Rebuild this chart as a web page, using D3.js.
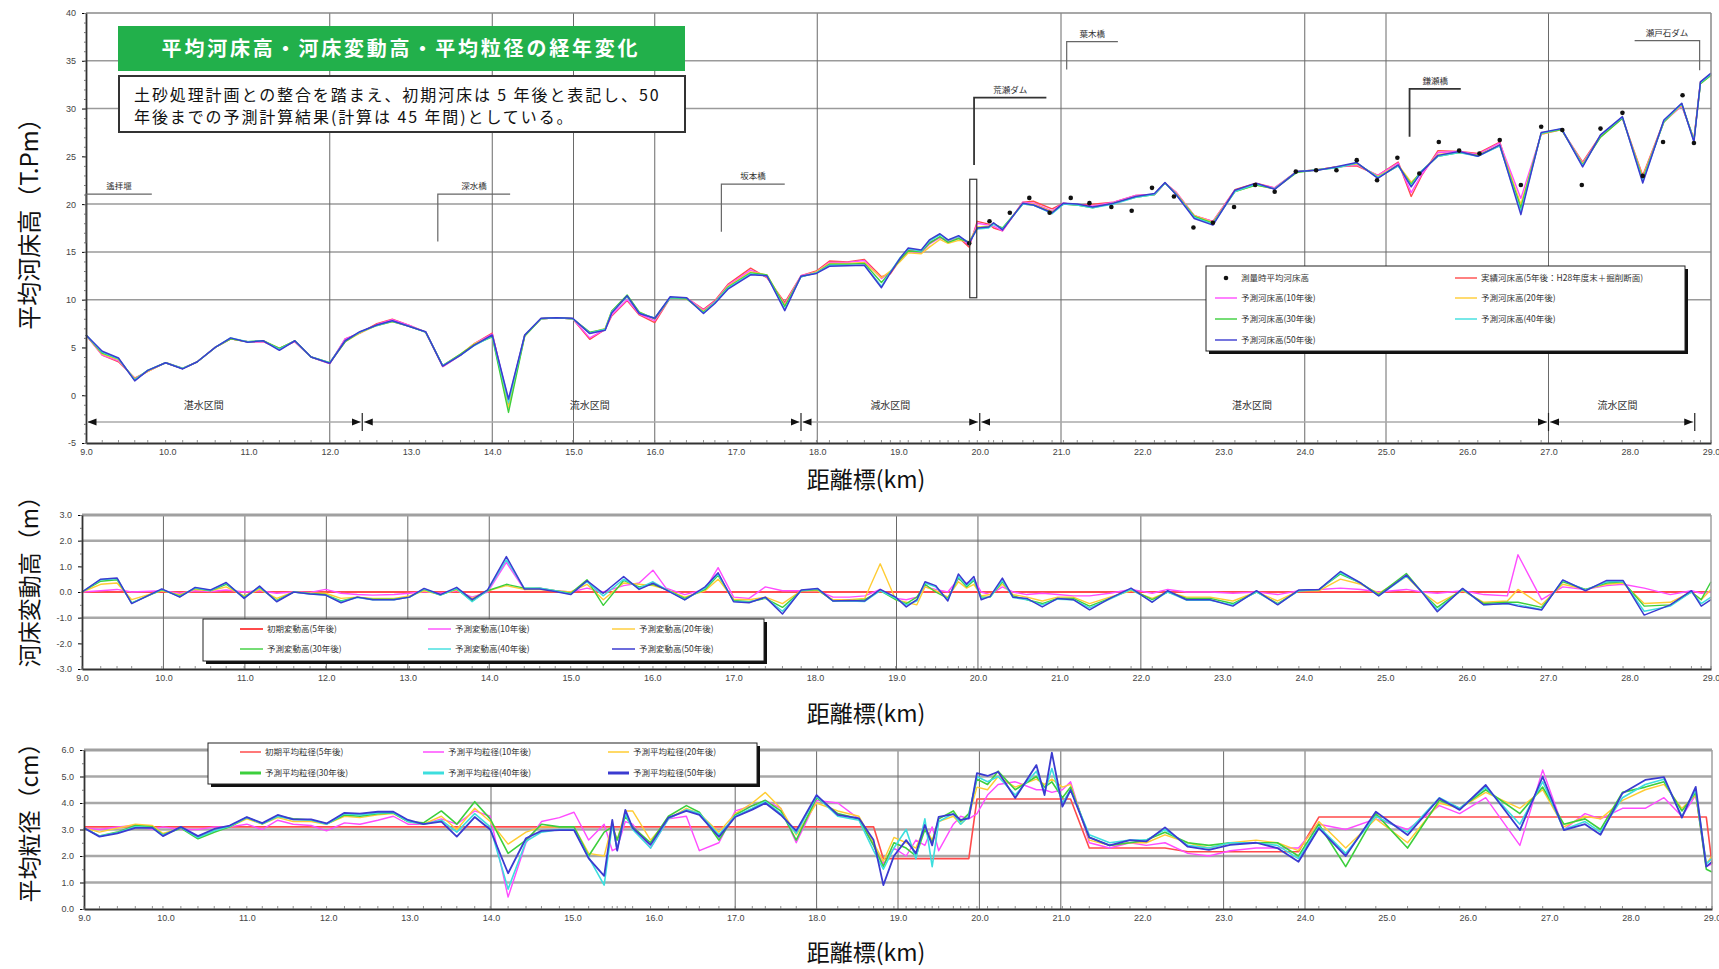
<!DOCTYPE html>
<html><head><meta charset="utf-8">
<script src="https://cdn.jsdelivr.net/npm/d3@7"></script>
<style>
body{margin:0;background:#fff;}
svg text{font-family:"Noto Sans CJK JP","Noto Sans",sans-serif;}
.tk text{font-family:"Liberation Sans Narrow","Liberation Sans",sans-serif;font-size:9px;fill:#444;}
</style></head><body>
<svg id="chart" width="1719" height="969"></svg>
<script>
// ---------------- data ----------------
const xTicks = [9,10,11,12,13,14,15,16,17,18,19,20,21,22,23,24,25,26,27,28,29];
const seriesColors = ["#ff4b4b","#ff4cff","#ffcc33","#3ccf3c","#3ddede","#3b3bd0"];

// 平均河床高 (T.Pm)
const kmA = [9.0,9.2,9.4,9.6,9.76,9.98,10.19,10.37,10.59,10.78,
10.99,11.18,11.38,11.57,11.77,12.0,12.19,12.37,12.58,12.77,
12.98,13.18,13.39,13.61,13.78,14.0,14.2,14.4,14.6,14.79,
14.99,15.2,15.39,15.47,15.66,15.81,16.0,16.19,16.39,16.6,
16.74,16.9,17.18,17.38,17.6,17.8,17.99,18.15,18.37,18.58,
18.79,18.9,19.02,19.12,19.28,19.38,19.51,19.61,19.74,19.87,
19.97,20.11,20.17,20.28,20.53,20.66,20.89,21.03,21.2,21.39,
21.65,21.92,22.15,22.28,22.42,22.64,22.87,23.14,23.4,23.63,
23.9,24.16,24.39,24.64,24.9,25.15,25.31,25.44,25.64,25.9,
26.13,26.4,26.66,26.91,27.16,27.42,27.64,27.91,28.16,28.42,
28.64,28.79,28.87,29.0];
const bed5 = [6.3,4.2,3.5,1.8,2.5,3.4,2.8,3.5,5.0,5.9,
5.6,5.6,4.9,5.6,4.0,3.3,5.9,6.5,7.5,7.95,
7.3,6.6,3.0,4.2,5.4,6.5,-0.9,6.3,8.0,8.1,
8.0,5.85,6.9,8.3,9.9,8.4,7.6,10.2,10.2,9.0,
9.9,11.6,13.3,12.3,9.7,12.5,13.0,14.05,13.95,14.2,
12.4,12.7,14.2,15.2,15.0,16.0,16.5,16.2,16.5,15.5,
18.2,17.9,17.5,17.2,20.2,20.3,19.5,20.1,19.9,20.0,
20.2,20.9,21.0,22.2,21.2,18.8,18.2,21.5,22.2,21.7,
23.4,23.6,23.9,24.0,23.0,24.4,20.8,23.0,25.6,25.5,
25.3,26.5,19.6,27.4,27.8,24.4,27.2,29.0,23.0,28.7,
30.3,26.8,32.8,33.6];
const bed10 = [6.3,4.2,3.6,1.7,2.5,3.4,2.8,3.5,5.0,5.9,
5.6,5.6,4.9,5.6,4.0,3.3,5.9,6.5,7.4,7.9,
7.3,6.6,3.0,4.2,5.4,6.4,-0.6,6.3,8.0,8.1,
8.0,6.0,6.9,8.4,10.0,8.5,7.8,10.2,10.2,8.9,
9.8,11.5,13.1,12.4,9.5,12.5,12.9,13.9,13.9,14.1,
12.2,12.9,14.1,15.0,14.9,15.8,16.5,16.1,16.6,15.7,
18.0,17.8,17.7,17.2,20.2,20.1,19.3,20.1,19.9,19.8,
20.2,20.9,21.0,22.2,21.2,18.8,18.2,21.4,22.1,21.7,
23.4,23.6,23.9,24.1,23.0,24.3,21.2,23.1,25.4,25.5,
25.2,26.4,20.6,27.3,27.8,24.3,27.1,29.0,22.8,28.6,
30.3,26.8,32.7,33.5];
const bed20 = [6.3,4.3,3.7,1.7,2.5,3.4,2.8,3.5,5.0,5.9,
5.6,5.7,4.9,5.7,4.0,3.4,5.6,6.5,7.3,7.7,
7.2,6.6,3.1,4.3,5.4,6.2,-1.3,6.2,8.0,8.1,
8.0,6.5,7.0,8.8,10.3,8.7,8.0,10.2,10.1,8.8,
9.7,11.4,12.9,12.6,9.4,12.4,12.9,13.8,13.8,13.9,
12.3,13.0,14.0,14.9,14.8,15.5,16.3,15.9,16.2,16.1,
17.6,17.7,18.0,17.4,20.1,20.0,19.2,20.0,19.9,19.7,
20.1,20.8,21.0,22.2,21.1,18.8,18.1,21.3,22.0,21.6,
23.4,23.6,23.9,24.2,22.9,24.1,22.3,23.4,25.2,25.4,
25.1,26.2,20.0,27.3,27.8,24.2,27.0,29.0,22.8,28.6,
30.4,26.8,32.6,33.5];
const bed30 = [6.3,4.4,3.8,1.6,2.6,3.4,2.8,3.5,5.0,5.9,
5.6,5.7,4.9,5.7,4.0,3.4,5.6,6.6,7.3,7.7,
7.2,6.6,3.1,4.3,5.3,6.1,-1.8,6.2,8.0,8.1,
8.0,6.6,6.9,8.8,10.5,8.7,8.0,10.2,10.1,8.7,
9.7,11.3,12.8,12.6,9.3,12.4,12.8,13.7,13.7,13.8,
11.8,12.9,14.2,15.1,15.0,15.9,16.6,16.0,16.4,16.0,
17.5,17.6,17.9,17.5,20.0,19.9,19.1,20.0,19.9,19.6,
20.1,20.7,21.0,22.2,21.0,18.7,18.0,21.3,22.0,21.6,
23.3,23.6,23.8,24.3,22.8,24.0,22.1,23.5,25.0,25.4,
25.1,26.1,19.6,27.4,27.8,24.1,27.0,29.0,22.6,28.6,
30.5,26.7,32.6,33.5];
const bed40 = [6.3,4.5,3.8,1.6,2.6,3.4,2.8,3.5,5.0,6.0,
5.6,5.7,4.8,5.7,4.0,3.4,5.7,6.6,7.3,7.75,
7.2,6.6,3.1,4.2,5.2,6.2,-0.8,6.3,8.0,8.1,
8.0,6.5,6.9,8.7,10.3,8.6,8.1,10.2,10.2,8.6,
9.7,11.2,12.7,12.5,9.0,12.4,12.8,13.6,13.6,13.6,
11.4,12.9,14.4,15.3,15.1,16.1,16.8,16.2,16.6,16.0,
17.4,17.5,17.9,17.4,20.0,19.9,19.0,20.0,19.9,19.6,
20.0,20.7,21.0,22.2,21.0,18.6,17.9,21.3,22.1,21.6,
23.4,23.6,23.8,24.3,22.8,24.0,21.9,23.5,25.0,25.4,
25.0,26.1,19.2,27.4,27.9,24.0,27.2,29.1,22.4,28.7,
30.5,26.6,32.7,33.6];
const bed50 = [6.3,4.6,3.9,1.5,2.6,3.4,2.75,3.5,5.0,6.0,
5.55,5.7,4.7,5.7,4.0,3.35,5.7,6.65,7.35,7.8,
7.2,6.65,3.05,4.2,5.25,6.3,-0.4,6.3,8.05,8.1,
8.05,6.45,6.8,8.6,10.4,8.55,8.05,10.3,10.2,8.55,
9.6,11.1,12.6,12.5,8.85,12.45,12.75,13.5,13.55,13.6,
11.25,12.8,14.35,15.4,15.2,16.25,16.9,16.25,16.7,15.9,
17.5,17.6,18.05,17.3,20.1,19.9,19.1,20.1,20.0,19.7,
20.1,20.8,21.1,22.25,20.95,18.5,17.8,21.45,22.2,21.55,
23.4,23.55,23.9,24.35,22.7,24.1,21.8,23.4,25.1,25.5,
25.0,26.2,18.9,27.5,27.9,23.9,27.25,29.15,22.2,28.8,
30.55,26.5,32.8,33.7];
// 測量時の平均河床高 (点)
const surveyKm = [19.87,20.12,20.37,20.61,20.86,21.12,21.35,21.62,21.87,22.12,
22.39,22.63,22.87,23.13,23.39,23.63,23.89,24.14,24.39,24.64,
24.89,25.14,25.41,25.65,25.9,26.15,26.4,26.66,26.91,27.17,
27.41,27.64,27.91,28.16,28.41,28.65,28.79];
const surveyBed = [15.9,18.2,19.1,20.65,19.1,20.65,20.1,19.7,19.3,21.7,
20.8,17.55,18.05,19.7,22.0,21.3,23.4,23.55,23.55,24.6,
22.5,24.85,23.2,26.5,25.6,25.3,26.7,22.0,28.1,27.75,
22.0,27.9,29.55,22.95,26.5,31.4,26.4];

// 河床変動高 (m)
const kmB = [9.0,9.23,9.43,9.61,9.98,10.2,10.39,10.58,10.77,10.99,
11.18,11.39,11.6,11.8,11.99,12.18,12.38,12.57,12.83,13.02,
13.2,13.4,13.6,13.79,13.98,14.21,14.43,14.62,14.81,15.0,
15.2,15.4,15.65,15.84,16.01,16.17,16.4,16.65,16.81,17.0,
17.19,17.39,17.6,17.83,18.03,18.22,18.42,18.61,18.8,18.99,
19.12,19.25,19.35,19.48,19.63,19.76,19.86,19.95,20.04,20.15,
20.3,20.43,20.6,20.79,20.98,21.17,21.37,21.62,21.88,22.14,
22.33,22.56,22.85,23.13,23.42,23.68,23.94,24.19,24.45,24.7,
24.92,25.26,25.45,25.64,25.95,26.21,26.5,26.63,26.92,27.18,
27.46,27.72,27.92,28.18,28.5,28.76,28.88,29.0];
const chg5 = [0,0,0,0,0,0,0,0,0,0,
0,0,0,0,0,0,0,0,0,0,
0,0,0,0,0,0,0,0,0,0,
0,0,0,0,0,0,0,0,0,0,
0,0,0,0,0,0,0,0,0,0,
0,0,0,0,0,0,0,0,0,0,
0,0,0,0,0,0,0,0,0,0,
0,0,0,0,0,0,0,0,0,0,
0,0,0,0,0,0,0,0,0,0,
0,0,0,0,0,0,0,0];
const chg10 = [0.0,0.05,0.1,0.0,0.05,-0.05,0.05,0.02,0.08,0.0,
0.05,-0.05,0.0,-0.02,0.1,-0.05,-0.1,-0.12,-0.1,-0.05,
0.02,-0.05,0.05,-0.2,0.0,1.15,0.1,0.15,0.05,0.0,
0.15,0.0,0.25,0.35,0.85,0.15,-0.1,0.1,0.95,-0.2,
-0.25,0.2,0.05,0.05,0.05,-0.2,-0.2,-0.15,0.1,-0.25,
-0.3,-0.2,0.2,0.1,0.0,0.5,0.35,0.5,0.0,-0.1,
0.2,0.0,-0.1,-0.05,-0.1,-0.15,-0.15,-0.05,0.1,-0.05,
0.1,0.0,0.0,-0.05,0.0,-0.1,0.05,0.1,0.15,0.1,
0.0,0.1,0.0,-0.05,0.05,-0.1,-0.15,1.45,-0.3,0.2,
0.1,0.25,0.3,0.15,-0.1,0.05,-0.05,0.0];
const chg20 = [0.0,0.3,0.35,-0.3,0.05,-0.1,0.1,0.05,0.2,-0.15,
0.1,-0.25,0.0,-0.05,-0.05,-0.25,-0.2,-0.25,-0.25,-0.15,
0.05,-0.1,0.08,-0.25,0.05,0.25,0.1,0.1,0.05,0.0,
0.3,-0.3,0.35,0.3,0.25,0.1,-0.2,0.05,0.5,-0.28,
-0.3,-0.2,-0.45,0.05,0.05,-0.3,-0.3,-0.25,1.1,-0.3,
-0.4,-0.5,0.2,0.05,-0.2,0.4,0.15,0.3,-0.15,-0.1,
0.3,-0.1,-0.2,-0.35,-0.2,-0.2,-0.45,-0.2,0.05,-0.25,
0.0,-0.2,-0.2,-0.35,0.0,-0.35,0.05,0.05,0.5,0.3,
-0.05,0.6,0.0,-0.45,0.05,-0.4,-0.35,0.1,-0.5,0.3,
0.1,0.3,0.35,-0.45,-0.4,0.0,-0.3,0.1];
const chg30 = [0.0,0.42,0.48,-0.42,0.08,-0.15,0.14,0.05,0.3,-0.2,
0.18,-0.33,0.0,-0.06,-0.1,-0.35,-0.2,-0.28,-0.28,-0.2,
0.1,-0.12,0.12,-0.35,0.05,0.3,0.15,0.15,0.05,-0.05,
0.48,-0.52,0.45,0.2,0.3,0.1,-0.25,0.1,0.65,-0.33,
-0.38,-0.25,-0.6,0.05,0.1,-0.35,-0.35,-0.3,0.05,-0.3,
-0.45,-0.2,0.3,0.0,-0.25,0.55,0.2,0.45,-0.2,-0.2,
0.4,-0.15,-0.3,-0.45,-0.25,-0.25,-0.55,-0.25,0.1,-0.3,
0.0,-0.25,-0.25,-0.45,0.0,-0.45,0.05,0.1,0.7,0.35,
-0.1,0.72,0.0,-0.6,0.1,-0.45,-0.4,-0.4,-0.6,0.4,
0.1,0.35,0.4,-0.55,-0.5,0.0,-0.3,0.4];
const chg40 = [0.0,0.48,0.52,-0.43,0.1,-0.18,0.16,0.06,0.35,-0.23,
0.2,-0.36,0.0,-0.08,-0.12,-0.38,-0.22,-0.3,-0.3,-0.2,
0.12,-0.12,0.14,-0.38,0.06,1.25,0.15,0.15,0.05,-0.08,
0.4,-0.15,0.5,0.15,0.4,0.1,-0.3,0.15,0.7,-0.36,
-0.4,-0.22,-0.75,0.06,0.12,-0.35,-0.35,-0.37,0.05,-0.25,
-0.5,-0.35,0.35,0.2,-0.3,0.6,0.25,0.5,-0.25,-0.2,
0.45,-0.22,-0.3,-0.5,-0.28,-0.3,-0.62,-0.28,0.1,-0.38,
0.0,-0.32,-0.32,-0.5,0.0,-0.48,0.05,0.1,0.75,0.35,
-0.15,0.62,0.02,-0.7,0.12,-0.5,-0.45,-0.5,-0.68,0.45,
0.08,0.4,0.42,-0.75,-0.55,0.0,-0.45,-0.2];
const chg50 = [0.0,0.5,0.55,-0.45,0.12,-0.2,0.18,0.08,0.37,-0.25,
0.23,-0.38,0.0,-0.08,-0.12,-0.42,-0.2,-0.3,-0.3,-0.2,
0.14,-0.1,0.18,-0.3,0.08,1.38,0.12,0.12,0.02,-0.1,
0.44,-0.05,0.6,0.1,0.34,0.08,-0.31,0.2,0.75,-0.38,
-0.42,-0.2,-0.86,0.08,0.14,-0.35,-0.33,-0.35,0.1,-0.2,
-0.58,-0.3,0.4,0.25,-0.35,0.7,0.3,0.6,-0.3,-0.17,
0.54,-0.2,-0.25,-0.58,-0.25,-0.3,-0.7,-0.25,0.15,-0.4,
0.05,-0.3,-0.3,-0.55,0.05,-0.5,0.08,0.1,0.8,0.35,
-0.15,0.66,0.0,-0.77,0.14,-0.5,-0.45,-0.55,-0.7,0.47,
0.05,0.45,0.45,-0.9,-0.5,0.05,-0.55,-0.3];

// 平均粒径 (cm)
const kmC = [9.0,9.19,9.41,9.63,9.84,9.97,10.19,10.4,10.6,10.79,
11.0,11.19,11.38,11.57,11.79,11.98,12.2,12.39,12.61,12.8,
12.98,13.17,13.39,13.58,13.8,13.99,14.21,14.43,14.62,14.84,
15.02,15.2,15.39,15.49,15.55,15.65,15.74,15.96,16.18,16.4,
16.56,16.8,17.0,17.21,17.37,17.56,17.75,18.0,18.26,18.52,
18.7,18.82,18.95,19.1,19.22,19.33,19.42,19.5,19.68,19.77,
19.87,19.97,20.1,20.23,20.44,20.7,20.8,20.89,21.02,21.12,
21.35,21.6,21.85,22.05,22.28,22.56,22.82,23.08,23.4,23.66,
23.92,24.17,24.5,24.87,25.26,25.65,25.9,26.22,26.64,26.92,
27.18,27.44,27.63,27.9,28.18,28.41,28.63,28.8,28.93,29.0];
const grain5 = [3.1,3.1,3.1,3.1,3.1,3.1,3.1,3.1,3.1,3.1,
3.1,3.1,3.1,3.1,3.1,3.1,3.1,3.1,3.1,3.1,
3.1,3.1,3.1,3.1,3.1,3.1,3.1,3.1,3.1,3.1,
3.1,3.1,3.1,3.1,3.1,3.1,3.1,3.1,3.1,3.1,
3.1,3.1,3.1,3.1,3.1,3.1,3.1,3.1,3.1,3.1,
3.1,1.9,1.9,1.9,1.9,1.9,1.9,1.9,1.9,1.9,
1.9,4.15,4.15,4.15,4.15,4.15,4.15,4.15,4.15,4.15,
2.3,2.3,2.3,2.3,2.3,2.16,2.16,2.16,2.16,2.16,
2.16,3.47,3.47,3.47,3.47,3.47,3.47,3.47,3.47,3.47,
3.47,3.47,3.47,3.47,3.47,3.47,3.47,3.47,3.47,1.7];
const grain10 = [3.06,3.0,3.1,3.15,3.0,3.1,3.0,3.0,3.1,3.1,
3.2,3.0,3.35,3.2,3.15,2.95,3.25,3.2,3.35,3.5,
3.2,3.2,3.4,3.2,3.7,3.5,0.45,2.5,3.3,3.45,
3.65,2.6,3.2,2.2,2.3,3.3,3.2,2.3,3.4,3.5,
2.2,2.5,3.7,3.9,4.1,3.8,2.5,4.1,4.0,3.4,
2.4,1.7,2.3,2.0,2.6,2.4,3.1,2.2,3.2,3.5,
3.4,3.6,4.3,4.7,4.8,4.5,4.5,4.4,4.5,4.8,
2.5,2.3,2.5,2.4,2.5,2.1,2.0,2.2,2.3,2.3,
2.3,3.2,3.0,3.4,3.0,3.9,3.6,4.2,2.4,5.25,
3.0,3.6,3.4,3.8,3.8,4.2,3.5,4.3,1.6,1.7];
const grain20 = [3.06,2.9,3.05,3.2,3.15,2.85,3.05,2.7,2.95,3.1,
3.4,3.2,3.45,3.3,3.3,3.2,3.5,3.45,3.55,3.6,
3.3,3.2,3.5,3.0,3.8,3.3,2.45,2.9,3.1,3.1,
3.1,2.1,2.0,3.2,2.6,3.7,3.7,2.6,3.4,3.8,
3.6,2.9,3.6,4.0,4.4,3.8,2.8,4.0,3.7,3.5,
2.5,1.8,2.7,2.5,2.3,3.1,2.6,3.3,3.5,3.2,
3.5,4.6,4.5,5.0,4.6,4.9,4.7,4.9,4.6,4.7,
2.6,2.4,2.5,2.5,2.8,2.5,2.3,2.5,2.6,2.5,
2.2,3.3,2.3,3.4,2.5,4.0,3.8,4.4,3.8,4.5,
3.1,3.5,3.4,4.1,4.5,4.7,3.8,4.3,1.7,2.0];
const grain30 = [3.06,2.75,2.9,3.15,3.1,2.8,3.05,2.65,2.9,3.1,
3.45,3.22,3.5,3.4,3.36,3.22,3.55,3.5,3.6,3.62,
3.3,3.25,3.7,3.2,4.05,3.4,2.1,2.6,3.2,3.1,
3.1,2.0,2.9,3.1,2.6,3.5,3.1,2.5,3.5,3.9,
3.65,2.6,3.55,3.9,4.1,3.7,2.6,4.2,3.6,3.4,
2.4,1.6,2.5,2.3,2.0,3.0,2.5,3.4,3.7,3.3,
3.6,4.9,4.7,5.2,4.5,5.0,4.6,4.8,4.2,4.6,
2.7,2.4,2.5,2.6,2.9,2.5,2.4,2.5,2.5,2.5,
2.0,3.2,1.6,3.6,2.3,4.1,3.8,4.5,3.6,4.6,
3.2,3.4,3.0,4.4,4.6,4.8,3.7,4.4,1.5,1.4];
const grain40 = [3.06,2.75,2.88,3.1,3.06,2.78,3.08,2.7,2.95,3.12,
3.45,3.22,3.5,3.38,3.36,3.2,3.6,3.55,3.62,3.64,
3.3,3.2,3.35,2.9,3.6,3.1,0.75,2.55,2.9,3.0,
3.0,1.95,0.9,3.2,2.25,3.6,3.0,2.3,3.4,3.75,
3.6,2.8,3.5,3.8,4.05,3.6,2.85,4.25,3.5,3.35,
2.2,1.5,2.3,3.0,1.9,3.4,1.6,3.3,3.6,3.2,
3.5,5.0,4.8,5.0,4.3,5.2,4.4,5.3,4.0,4.5,
2.8,2.5,2.6,2.6,3.0,2.4,2.3,2.5,2.5,2.4,
1.9,3.1,2.1,3.5,2.9,4.2,3.8,4.6,3.2,4.8,
3.0,3.3,2.9,4.2,4.7,4.9,3.5,4.5,1.7,1.9];
const grain50 = [3.06,2.73,2.85,3.06,3.06,2.75,3.1,2.75,3.02,3.15,
3.47,3.24,3.55,3.38,3.38,3.23,3.63,3.6,3.67,3.67,
3.36,3.2,3.3,2.73,3.47,3.0,1.35,2.67,2.95,2.98,
2.98,1.91,1.25,3.36,2.2,3.74,3.06,2.42,3.45,3.7,
3.55,2.72,3.47,3.75,4.0,3.55,2.95,4.3,3.55,3.42,
2.6,0.9,2.0,2.6,2.1,3.17,2.4,3.48,3.58,3.36,
3.42,5.13,5.02,5.18,4.19,5.43,4.3,5.9,3.86,4.49,
2.7,2.4,2.6,2.55,3.08,2.35,2.23,2.42,2.5,2.3,
1.78,3.05,2.0,3.67,2.79,4.18,3.74,4.68,2.98,4.99,
2.98,3.2,2.8,4.37,4.87,4.98,3.45,4.61,1.6,1.78];

// 区間・構造物
const sectionBounds = [9.0,12.4,17.8,20.0,27.0,28.8];
const sectionNames = ["湛水区間","流水区間","減水区間","湛水区間","流水区間"];
const sectionLabelKm = [10.45,15.2,18.9,23.35,27.85];
const structNames = ["遙拝堰","深水橋","坂本橋","荒瀬ダム","葉木橋","鎌瀬橋","瀬戸石ダム"];
const structKm    = [9.0,13.33,16.82,19.93,21.07,25.29,28.86];
const structBase  = [15.9,16.1,17.1,24.1,34.1,27.05,34.0];
const structTop   = [21.05,21.05,22.1,31.15,37.0,32.05,37.1];
const structArmKm = [9.81,14.22,17.6,20.82,21.7,25.92,28.06];
const damKm = 19.92, damTop = 22.6, damBottom = 10.2;

// 凡例
const bedLegend = ["測量時平均河床高","実績河床高(5年後：H28年度末＋掘削断面)","予測河床高(10年後)","予測河床高(20年後)","予測河床高(30年後)","予測河床高(40年後)","予測河床高(50年後)"];
const chgLegend = ["初期変動高(5年後)","予測変動高(10年後)","予測変動高(20年後)","予測変動高(30年後)","予測変動高(40年後)","予測変動高(50年後)"];
const grainLegend = ["初期平均粒径(5年後)","予測平均粒径(10年後)","予測平均粒径(20年後)","予測平均粒径(30年後)","予測平均粒径(40年後)","予測平均粒径(50年後)"];

// ---------------- drawing ----------------
const svg = d3.select("#chart");
svg.append("rect").attr("width",1719).attr("height",969).attr("fill","#fff");

const defs = svg.append("defs");
defs.append("marker").attr("id","arr").attr("viewBox","0 0 10 10").attr("refX",10).attr("refY",5)
  .attr("markerWidth",6).attr("markerHeight",6).attr("orient","auto-start-reverse")
  .append("path").attr("d","M0,1L10,5L0,9Z").attr("fill","#111");

function panel(p){
  const x = d3.scaleLinear().domain([9,29]).range([p.left,p.right]);
  const y = d3.scaleLinear().domain(p.yDomain).range([p.bottom,p.top]);
  const grid = svg.append("g"), data = svg.append("g"), axes = svg.append("g");
  grid.selectAll("line.h").data(p.hGrid).join("line")
    .attr("x1",p.left).attr("x2",p.right).attr("y1",d=>y(d)).attr("y2",d=>y(d))
    .attr("stroke",p.hColor).attr("stroke-width",p.hWidth);
  grid.selectAll("line.v").data(p.vGrid).join("line")
    .attr("x1",d=>x(d)).attr("x2",d=>x(d)).attr("y1",p.top).attr("y2",p.bottom)
    .attr("stroke","#6a6a6a").attr("stroke-width",1);
  axes.append("line").attr("x1",p.left).attr("x2",p.right).attr("y1",p.top).attr("y2",p.top)
    .attr("stroke",p.frameColor).attr("stroke-width",p.topWidth);
  axes.append("line").attr("x1",p.right).attr("x2",p.right).attr("y1",p.top).attr("y2",p.bottom)
    .attr("stroke",p.frameColor).attr("stroke-width",1.5);
  const ya = axes.append("g").attr("class","tk").attr("transform",`translate(${p.left},0)`)
    .call(d3.axisLeft(y).tickValues(p.yTicks).tickFormat(p.yFmt).tickSize(4).tickSizeOuter(0).tickPadding(p.yPad));
  axes.append("g").attr("transform",`translate(${p.left},0)`)
    .call(d3.axisLeft(y).tickValues(p.yMinor).tickFormat("").tickSize(2).tickSizeOuter(0))
    .call(g=>g.select(".domain").remove()).selectAll("line").attr("stroke","#777");
  const xa = axes.append("g").attr("class","tk").attr("transform",`translate(0,${p.bottom})`)
    .call(d3.axisBottom(x).tickValues(xTicks).tickFormat(d=>d.toFixed(1)).tickSize(0).tickSizeOuter(0).tickPadding(6));
  [ya,xa].forEach(a=>a.select(".domain").attr("stroke","#333").attr("stroke-width",1.8));
  axes.append("g").selectAll("line").data(p.km).join("line")
    .attr("x1",d=>x(d)).attr("x2",d=>x(d)).attr("y1",p.bottom).attr("y2",p.bottom-3)
    .attr("stroke","#777").attr("stroke-width",0.8);
  p.series.forEach((s,i)=>{
    data.append("path").datum(s)
      .attr("d",d3.line().defined(v=>v!=null).x((v,j)=>x(p.km[j])).y(v=>y(v)))
      .attr("fill","none").attr("stroke",seriesColors[i])
      .attr("stroke-width",p.widths[i]).attr("stroke-linejoin","round");
  });
  return {x,y,data,axes};
}

function legend(box, labels, colors, widths, cols, colX, rowY, lineLen, withDot){
  const g = svg.append("g");
  g.append("rect").attr("x",box[0]+3).attr("y",box[1]+3).attr("width",box[2]).attr("height",box[3]).attr("fill","#111");
  g.append("rect").attr("x",box[0]).attr("y",box[1]).attr("width",box[2]).attr("height",box[3])
    .attr("fill","#fff").attr("stroke","#222").attr("stroke-width",1);
  labels.forEach((lab,i)=>{
    const cx = colX[i%cols], cy = rowY[Math.floor(i/cols)];
    if(withDot && i===0){
      g.append("circle").attr("cx",cx+lineLen/2).attr("cy",cy).attr("r",2.3).attr("fill","#111");
    } else {
      g.append("line").attr("x1",cx).attr("x2",cx+lineLen).attr("y1",cy).attr("y2",cy)
        .attr("stroke",colors[i]).attr("stroke-width",widths[i]);
    }
    g.append("text").attr("x",cx+lineLen+4).attr("y",cy).attr("dy","0.35em")
      .attr("font-size",8.5).attr("fill","#333").text(lab);
  });
}

// ---- 平均河床高 ----
const pBed = panel({left:86,right:1711,top:13,bottom:443,yDomain:[-5,40],
  hGrid:[10,15,20,30,35], hColor:"#9a9a9a", hWidth:1.5,
  vGrid:[12,14,15,16,18,21,24,25,27], frameColor:"#8a8a8a", topWidth:1.5,
  yTicks:[-5,0,5,10,15,20,25,30,35,40], yMinor:d3.range(-5,41,1), yFmt:d=>d, yPad:6,
  km:kmA, series:[bed5,bed10,bed20,bed30,bed40,bed50], widths:[1.4,1.4,1.4,1.4,1.4,1.5]});

pBed.data.selectAll("circle").data(surveyBed).join("circle")
  .attr("cx",(d,i)=>pBed.x(surveyKm[i])).attr("cy",d=>pBed.y(d)).attr("r",2.3).attr("fill","#111");

// structures
structNames.forEach((nm,i)=>{
  const xs = pBed.x(structKm[i]), xe = pBed.x(structArmKm[i]);
  const yb = pBed.y(structBase[i]), yt = pBed.y(structTop[i]);
  const heavy = (i===3||i===5);
  pBed.axes.append("path").attr("d",`M${xs},${yb}V${yt}H${xe}`).attr("fill","none")
    .attr("stroke",heavy?"#333":"#666").attr("stroke-width",heavy?1.8:1.2);
  pBed.axes.append("text").attr("x",(xs+xe)/2).attr("y",yt-5).attr("text-anchor","middle")
    .attr("font-size",8.5).attr("fill","#333").text(nm);
});
pBed.axes.append("rect").attr("x",pBed.x(damKm)-3.5).attr("y",pBed.y(damTop)).attr("width",7)
  .attr("height",pBed.y(damBottom)-pBed.y(damTop)).attr("fill","none").attr("stroke","#333").attr("stroke-width",1.2);

// sections
const ySec = pBed.y(-2.8);
for(let i=0;i<sectionNames.length;i++){
  const a = pBed.x(sectionBounds[i])+1.5, b = pBed.x(sectionBounds[i+1])-1.5;
  pBed.axes.append("line").attr("x1",a).attr("x2",b).attr("y1",ySec).attr("y2",ySec)
    .attr("stroke","#aaa").attr("stroke-width",1.5)
    .attr("marker-start","url(#arr)").attr("marker-end","url(#arr)");
  pBed.axes.append("text").attr("x",pBed.x(sectionLabelKm[i])).attr("y",pBed.y(-1.45))
    .attr("text-anchor","middle").attr("font-size",10).attr("fill","#333").text(sectionNames[i]);
}
sectionBounds.slice(1).forEach(k=>{
  pBed.axes.append("line").attr("x1",pBed.x(k)).attr("x2",pBed.x(k)).attr("y1",pBed.y(-1.85)).attr("y2",pBed.y(-3.75))
    .attr("stroke","#222").attr("stroke-width",1.2);
});

legend([1206,266,479,85], bedLegend, [null].concat(seriesColors), [0,1.4,1.4,1.4,1.4,1.4,1.4], 2,
  [1215,1455], [278,298,319,340], 22, true);

// title & note
svg.append("rect").attr("x",118).attr("y",26).attr("width",567).attr("height",45).attr("fill","#22b04b");
svg.append("text").attr("x",401).attr("y",48.5).attr("dy","0.35em").attr("text-anchor","middle")
  .attr("font-size",20).attr("font-weight",700).attr("letter-spacing",2.8).attr("fill","#fff")
  .text("平均河床高・河床変動高・平均粒径の経年変化");
svg.append("rect").attr("x",119).attr("y",76).attr("width",566).attr("height",56)
  .attr("fill","#fff").attr("stroke","#333").attr("stroke-width",2);
svg.append("text").attr("x",134).attr("y",95).attr("dy","0.35em").attr("font-size",16).attr("letter-spacing",1.9)
  .attr("fill","#111").text("土砂処理計画との整合を踏まえ、初期河床は 5 年後と表記し、50");
svg.append("text").attr("x",134).attr("y",117).attr("dy","0.35em").attr("font-size",16).attr("letter-spacing",1.9)
  .attr("fill","#111").text("年後までの予測計算結果(計算は 45 年間)としている。");

// ---- 河床変動高 ----
const pChg = panel({left:82,right:1711,top:515,bottom:669,yDomain:[-3,3],
  hGrid:[2,-1], hColor:"#a8a8a8", hWidth:2.5,
  vGrid:[10,11,12,13,14,19,20,22], frameColor:"#a0a0a0", topWidth:3,
  yTicks:[-3,-2,-1,0,1,2,3], yMinor:d3.range(-3,3.01,0.5), yFmt:d=>d.toFixed(1), yPad:6,
  km:kmB, series:[chg5,chg10,chg20,chg30,chg40,chg50], widths:[2,1.4,1.4,1.4,1.4,1.5]});
legend([203,619,561,42], chgLegend, seriesColors, [2,1.4,1.4,1.4,1.4,1.5], 3,
  [240,428,612], [629,649], 23, false);

// ---- 平均粒径 ----
const pGrain = panel({left:84,right:1712,top:750,bottom:909,yDomain:[0,6],
  hGrid:[1,2,3,4,5], hColor:"#a8a8a8", hWidth:2.5,
  vGrid:[14,17,18,19,20,21,23,24], frameColor:"#a0a0a0", topWidth:3,
  yTicks:[0,1,2,3,4,5,6], yMinor:d3.range(0,6.01,0.5), yFmt:d=>d.toFixed(1), yPad:6,
  km:kmC, series:[grain5,grain10,grain20,grain30,grain40,grain50], widths:[1.6,1.4,1.4,1.6,1.6,1.8]});
legend([208,743,549,41], grainLegend, seriesColors, [1.5,1.5,1.5,3,3,3], 3,
  [240,423,608], [752,773], 21, false);

// axis titles
const yTitles = [["平均河床高（T.Pm）",218,24],["河床変動高（m）",576,23],["平均粒径（cm）",817,23]];
yTitles.forEach(([t,cy,fs])=>{
  svg.append("text").attr("transform",`translate(30,${cy}) rotate(-90)`).attr("text-anchor","middle")
    .attr("dy","0.35em").attr("font-size",fs).attr("fill","#111").text(t);
});
[480,714,953].forEach(cy=>{
  svg.append("text").attr("x",866).attr("y",cy).attr("dy","0.35em").attr("text-anchor","middle")
    .attr("font-size",23).attr("fill","#111").text("距離標(km)");
});
</script>
</body></html>
